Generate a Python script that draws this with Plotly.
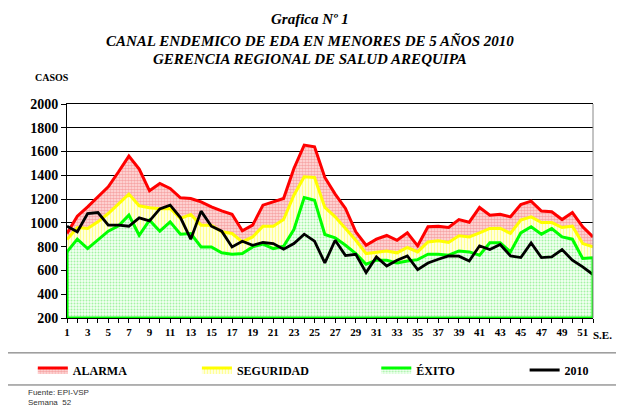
import plotly.graph_objects as go

weeks = list(range(1, 53))
alarma = [911, 1057, 1135, 1219, 1304, 1430, 1562, 1452, 1270, 1332, 1290, 1211, 1205, 1177, 1135, 1101, 1073, 933, 981, 1149, 1177, 1205, 1458, 1654, 1640,
          1382, 1242, 1121, 925, 812, 863, 894, 854, 916, 807, 967, 972, 961, 1028, 1006, 1130, 1065, 1073, 1051, 1155, 1183, 1099, 1093, 1028, 1087, 967, 882]
seguridad = [860, 961, 953, 1009, 1079, 1163, 1242, 1144, 1127, 1118, 1121, 1037, 1071, 981, 981, 925, 911, 840, 882, 972, 972, 1028, 1233, 1388, 1382,
             1130, 1051, 953, 854, 742, 753, 764, 748, 793, 756, 840, 849, 835, 891, 882, 916, 953, 955, 911, 1023, 1051, 1003, 1003, 961, 972, 826, 798]
exito = [756, 863, 784, 854, 930, 975, 1065, 896, 1023, 930, 1009, 905, 911, 798, 798, 748, 736, 742, 798, 821, 784, 804, 944, 1214, 1191,
         902, 874, 812, 742, 652, 686, 686, 663, 680, 691, 736, 736, 728, 764, 756, 728, 832, 832, 756, 916, 967, 905, 953, 882, 863, 700, 706]
casos_2010 = [972, 925, 1079, 1087, 981, 981, 972, 1042, 1017, 1118, 1149, 1045, 863, 1099, 972, 930, 798, 846, 812, 835, 826, 779, 826, 905, 846,
              663, 854, 725, 736, 582, 714, 638, 686, 722, 607, 663, 694, 722, 720, 680, 807, 776, 818, 722, 708, 832, 708, 714, 776, 686, 630, 565]
y_ticks = list(range(200, 2001, 200))
x_labels = [str(w) if w % 2 == 1 else "" for w in weeks]

SERIF = "Liberation Serif, Times New Roman, serif"
SANS = "Liberation Sans, Arial, sans-serif"

fig = go.Figure()
fig.add_trace(go.Scatter(
    x=weeks, y=exito, name="ÉXITO", mode="lines", fill="tozeroy",
    line=dict(color="#00FF00", width=3),
    fillpattern=dict(shape=".", fgcolor="#55E855", bgcolor="#F2FFF2", size=3, solidity=0.35),
    legend="legend3"))
fig.add_trace(go.Scatter(
    x=weeks, y=seguridad, name="SEGURIDAD", mode="lines", fill="tonexty",
    line=dict(color="#FFFF00", width=3),
    fillpattern=dict(shape="|", fgcolor="#FFFF33", bgcolor="#FFFFEE", size=3, solidity=0.45),
    legend="legend2"))
fig.add_trace(go.Scatter(
    x=weeks, y=alarma, name="ALARMA", mode="lines", fill="tonexty",
    line=dict(color="#FF0000", width=3),
    fillpattern=dict(shape=".", fgcolor="#EE6666", bgcolor="#FFE4E4", size=3, solidity=0.6),
    legend="legend"))
fig.add_trace(go.Scatter(
    x=weeks, y=casos_2010, name="2010", mode="lines",
    line=dict(color="#000000", width=2.8), legend="legend4"))

# area outline edges (Excel-style)
fig.add_shape(type="line", x0=weeks[0], x1=weeks[0], y0=y_ticks[0], y1=exito[0],
              line=dict(color="#00FF00", width=3), layer="above")
fig.add_shape(type="line", x0=weeks[-1], x1=weeks[-1], y0=y_ticks[0], y1=exito[-1],
              line=dict(color="#00FF00", width=3), layer="above")
fig.add_shape(type="line", x0=weeks[0], x1=weeks[-1], y0=y_ticks[0], y1=y_ticks[0],
              line=dict(color="#00FF00", width=3), layer="above")
fig.add_shape(type="line", xref="paper", yref="paper", x0=1, x1=1, y0=0, y1=1,
              line=dict(color="#888888", width=1))

# legend frame
fig.add_shape(type="rect", xref="paper", yref="paper",
              x0=-0.1217, x1=1.07, y0=-0.163, y1=-0.313,
              line=dict(color="#666666", width=1), fillcolor="rgba(0,0,0,0)")

leg_common = dict(orientation="h", yanchor="middle", y=-0.243, xanchor="left",
                  bgcolor="rgba(0,0,0,0)", borderwidth=0,
                  font=dict(family=SERIF, size=12, color="black", weight="bold"))
fig.update_layout(
    legend=dict(x=-0.065, **leg_common),
    legend2=dict(x=0.247, **leg_common),
    legend3=dict(x=0.588, **leg_common),
    legend4=dict(x=0.87, **leg_common),
)

# page body has an 8px margin: shift the layout by -8px
fig.update_layout(
    width=624, height=407,
    margin=dict(l=59, r=39, t=96, b=97, autoexpand=False),
    paper_bgcolor="white", plot_bgcolor="white",
    showlegend=True,
    font=dict(family=SERIF, color="black"),
    xaxis=dict(range=[weeks[0], weeks[-1]], tickvals=weeks, ticktext=x_labels,
               ticks="outside", ticklen=4, tickcolor="black", showgrid=False,
               showline=True, linecolor="black", linewidth=1, mirror=True,
               tickfont=dict(family=SERIF, size=11, color="black", weight="bold"), tickangle=0,
               zeroline=False),
    yaxis=dict(range=[y_ticks[0], y_ticks[-1]], tickvals=y_ticks,
               ticks="outside", ticklen=5, tickcolor="black",
               showgrid=True, gridcolor="black", gridwidth=1,
               showline=True, linecolor="black", linewidth=1,
               tickfont=dict(family=SERIF, size=14, color="black", weight="bold"),
               zeroline=False),
)

titles = [("<b><i>Grafica Nº 1</i></b>", 19),
          ("<b><i>CANAL ENDEMICO DE EDA EN MENORES DE 5 AÑOS 2010</i></b>", 40),
          ("<b><i>GERENCIA REGIONAL DE SALUD AREQUIPA</i></b>", 59)]
for txt, ypx in titles:
    fig.add_annotation(text=txt, xref="paper", yref="paper",
                       x=(310 - 67) / 526, y=(318 - ypx) / 214,
                       xanchor="center", yanchor="middle", showarrow=False,
                       font=dict(family=SERIF, size=15, color="black"))

fig.add_annotation(text="<b>CASOS</b>", xref="paper", yref="paper",
                   x=(33 - 67) / 526, y=(318 - 77) / 214, xanchor="left", yanchor="middle",
                   showarrow=False, font=dict(family=SERIF, size=10, color="black"))
fig.add_annotation(text="<b>S.E.</b>", xref="paper", yref="paper",
                   x=(591 - 67) / 526, y=(318 - 335) / 214, xanchor="left", yanchor="middle",
                   showarrow=False, font=dict(family=SERIF, size=11, color="black"))
fig.add_annotation(text="Fuente: EPI-VSP", xref="paper", yref="paper",
                   x=(26 - 67) / 526, y=(318 - 392) / 214, xanchor="left", yanchor="middle",
                   showarrow=False, font=dict(family=SANS, size=8, color="#333333"))
fig.add_annotation(text="Semana  52", xref="paper", yref="paper",
                   x=(26 - 67) / 526, y=(318 - 402) / 214, xanchor="left", yanchor="middle",
                   showarrow=False, font=dict(family=SANS, size=8, color="#333333"))

fig.write_html("out.html")
